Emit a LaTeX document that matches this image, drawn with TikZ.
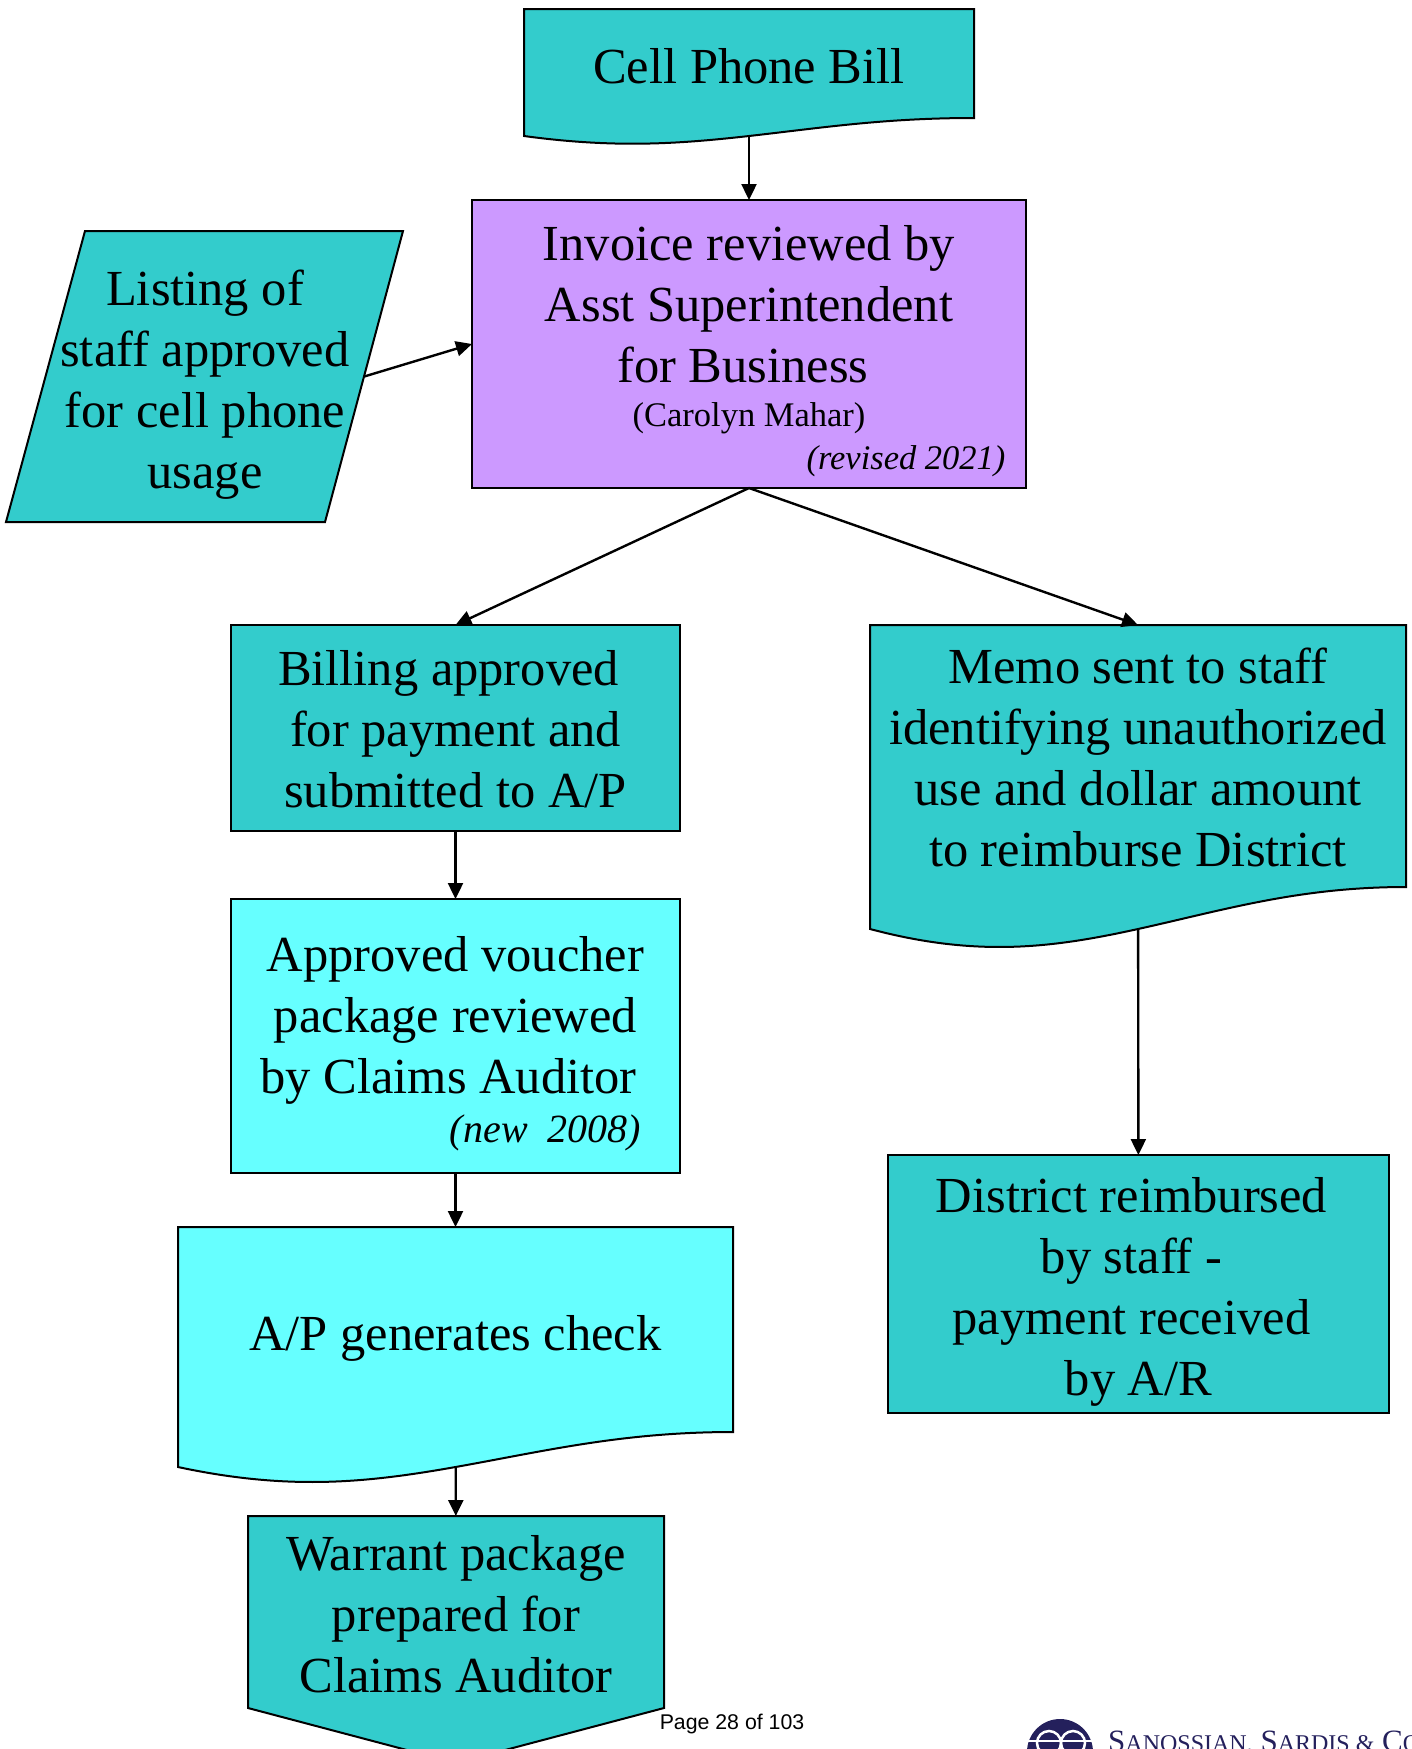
\documentclass[tikz,border=0pt]{standalone}
\usepackage{fontspec}
\setmainfont{Liberation Serif}
\newfontfamily\pagefont{Liberation Sans}
\usetikzlibrary{arrows.meta}
\definecolor{tealbox}{RGB}{51,204,204}
\definecolor{cyanbox}{RGB}{102,255,255}
\definecolor{purplebox}{RGB}{204,153,255}
\definecolor{logonavy}{RGB}{36,32,92}
\newcommand{\bigtxt}{\fontsize{50.5}{61}\selectfont}
\newcommand{\smalltxt}{\fontsize{34.5}{43}\selectfont}
\newcommand{\logobig}{\fontsize{31}{31}\selectfont}
\newcommand{\logosmall}{\fontsize{24}{24}\selectfont}
\tikzset{
  flowbox/.style={draw=black,line width=2pt,inner sep=0pt,outer sep=0pt,align=center,font=\bigtxt},
  flowtext/.style={inner sep=0pt,outer sep=0pt,align=center,font=\bigtxt},
  flowarrow/.style={line width=2.4pt,-{Stealth[length=16pt,width=15pt,inset=0pt]}},
}
\begin{document}
\begin{tikzpicture}[x=1pt,y=-1pt]
\def\wavebox#1#2#3#4#5#6{%
\filldraw[fill=#6,draw=black,line width=2pt] (#1,#3) -- (#2,#3) -- (#2,#4)
  .. controls ({#2-.2*(#2-#1)},#4) and ({#1+.66*(#2-#1)},{#5-.45*(#5-#4)}) .. ({(#1+#2)/2},#5)
  .. controls ({#1+.34*(#2-#1)},{#5+.45*(#5-#4)}) and ({#1+.2*(#2-#1)},{#5+.68*(#5-#4)}) .. (#1,#5) -- cycle;}
\useasboundingbox (0,0) rectangle (1412,1749);

\wavebox{524}{974}{9}{118}{136}{tealbox}
\wavebox{870}{1406}{625}{887}{929}{tealbox}
\wavebox{178}{733}{1227}{1432}{1467}{cyanbox}
\filldraw[fill=tealbox,draw=black,line width=2pt] (248,1516) -- (664,1516) -- (664,1708) -- (456,1763) -- (248,1708) -- cycle;
\filldraw[fill=tealbox,draw=black,line width=2pt] (85,231) -- (403,231) -- (325,522) -- (6,522) -- cycle;

\node [flowtext, minimum width=450, minimum height=127, name=bill] at (749,72.5) {Cell Phone Bill\rule[-14pt]{0pt}{0pt}};
\node [flowbox, fill=purplebox, minimum width=554, minimum height=288, name=invoice] at (749,344) {\rule{0pt}{49pt}Invoice reviewed by\\Asst Superintendent\\for Business\rule{12pt}{0pt}\\[-17pt]{\smalltxt (Carolyn Mahar)}\\[-18pt]{\smalltxt\hspace*{314pt}\itshape (revised 2021)}};
\node [flowtext, minimum width=318.5, minimum height=291, name=listing] at (205,376.5) {\rule{0pt}{52pt}Listing of\\staff approved\\for cell phone\\usage};
\node [flowbox, fill=tealbox, minimum width=449, minimum height=206, name=billing] at (455.5,728) {\rule{0pt}{37pt}Billing approved\rule{14pt}{0pt}\\for payment and\\submitted to A/P};
\node [flowtext, minimum width=536, minimum height=304, name=memo] at (1138,777) {Memo sent to staff\\identifying unauthorized\\use and dollar amount\\to reimburse District\rule[-40pt]{0pt}{0pt}};
\node [flowbox, fill=cyanbox, minimum width=449, minimum height=274, name=voucher] at (455.5,1036) {\rule{0pt}{50.5pt}Approved voucher\\package reviewed\\by Claims Auditor\rule{14pt}{0pt}\\[-12pt]{\fontsize{40}{48}\selectfont\hspace*{180pt}\itshape (new\ \ 2008)}};
\node [flowtext, minimum width=555, minimum height=240, name=check] at (455.5,1347) {A/P generates check\rule[-28pt]{0pt}{0pt}};
\node [flowtext, minimum width=416, minimum height=196, name=warrant] at (456,1614) {Warrant package\\prepared for\\Claims Auditor};
\node [flowbox, fill=tealbox, minimum width=501, minimum height=258, name=district] at (1138.5,1284) {\rule{0pt}{51pt}District reimbursed\rule{14pt}{0pt}\\by staff -\rule{14pt}{0pt}\\payment received\rule{14pt}{0pt}\\by A/R};

\draw [flowarrow](bill) to (invoice);
\draw [flowarrow](listing.east) to (invoice.west);
\draw [flowarrow](invoice.south) to (billing.north);
\draw [flowarrow](invoice.south) to (memo.north);
\draw [flowarrow](billing) to (voucher);
\draw [flowarrow](voucher) to (check);
\draw [flowarrow](check) to (warrant);
\draw [flowarrow](memo) to (district);

\node [inner sep=0pt, font=\pagefont\fontsize{21.3}{24}\selectfont, name=pagenum] at (732,1724) {Page 28 of 103};
%logo
\fill[logonavy] (1060,1752) circle (33);
\draw[white,line width=2.5pt] (1027,1741) -- (1093,1741);
\draw[white,line width=2.5pt] (1049,1743) circle (12);
\draw[white,line width=2.5pt] (1073,1743) circle (12);
\node [anchor=base west, inner sep=0pt, text=logonavy, font=\logobig, name=firm] at (1108,1751) {S{\logosmall ANOSSIAN,} S{\logosmall ARDIS \&} C{\logosmall O}};
\end{tikzpicture}
\end{document}
